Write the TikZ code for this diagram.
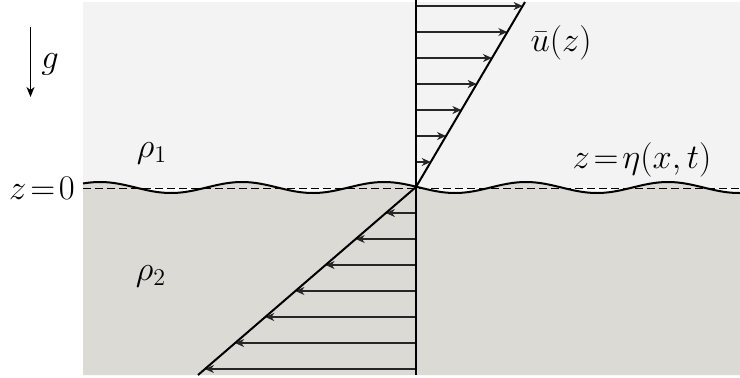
\documentclass[tikz,border=0pt]{standalone}
\usetikzlibrary{arrows.meta,calc}
\definecolor{upperfill}{RGB}{243,243,243}
\definecolor{lowerfill}{RGB}{220,218,212}
\begin{document}
\begin{tikzpicture}[x=0.5pt,y=-0.5pt,
  lbl/.style={inner sep=0pt,font=\fontsize{18.5}{22}\selectfont},
  mainline/.style={line width=1pt,black},
  vel/.style={line width=0.55pt,black!85,-{Stealth[length=4.5pt,width=4pt,inset=1.4pt]}},
  wave/.style={line width=1pt,black},
  zeroline/.style={line width=0.5pt,dash pattern=on 4pt off 2pt}]
\useasboundingbox (0,0) rectangle (740,377);
% regions
\fill[upperfill] (83,2) rectangle (740,188);
\fill[lowerfill] plot[domain=83:740,samples=200] ({\x},{187.5-5.5*cos(2.5352*(\x-100))}) -- (740,375) -- (83,375) -- cycle;
% interface
\draw[zeroline] (83,188) -- (740,188);
\draw[wave] plot[domain=83:740,samples=200] ({\x},{187.5-5.5*cos(2.5352*(\x-100))});
% axis and profile
\coordinate (axT) at (416,0);
\coordinate (axB) at (416,375);
\coordinate (O) at (416,187);
\coordinate (T) at (525,2);
\coordinate (B) at (198,375);
\foreach \i/\y in {1/6,2/32,3/58,4/84,5/110,6/136,7/162}{
  \coordinate (ua\i) at (416,\y);
  \coordinate (ub\i) at ({416+(187-\y)*0.5892},\y);
  \draw[vel] (ua\i) -- (ub\i);
}
\foreach \i/\y in {1/213,2/239,3/265,4/291,5/317,6/343,7/369}{
  \coordinate (la\i) at (416,\y);
  \coordinate (lb\i) at ({416-(\y-187)*1.1596},\y);
  \draw[vel] (la\i) -- (lb\i);
}
\draw[mainline] (axT) -- (axB);
\draw[mainline] (B) -- (O) -- (T);
% gravity
\coordinate (g1) at (30.5,27);
\coordinate (g2) at (30.5,97);
\draw[line width=0.8pt,-{Stealth[length=5pt,width=4pt,inset=1.5pt]}] (g1) -- (g2);
\node[lbl] (g) at (50,64) {$g$};
% labels
\node[lbl] (rho1) at (152,153) {$\rho_1$};
\node[lbl] (rho2) at (151,276) {$\rho_2$};
\node[lbl] (ubar) at (561,43) {$\bar u(z)$};
\node[lbl] (eta) at (642,160) {$z\!=\!\eta(x,t)$};
\node[lbl] (z0) at (42,188) {$z\!=\!0$};
\end{tikzpicture}
\end{document}
